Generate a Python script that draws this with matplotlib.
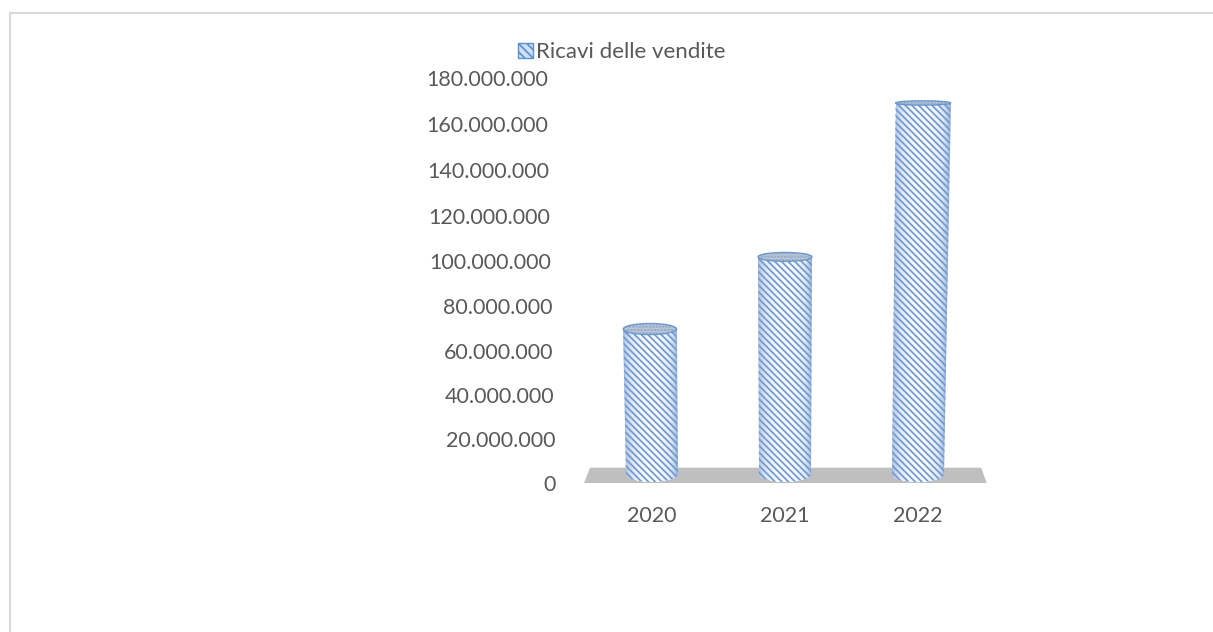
import numpy as np
from matplotlib import pyplot as plt
from matplotlib.lines import Line2D
from matplotlib.patches import Ellipse, PathPatch, Patch, Polygon
from matplotlib.path import Path
from matplotlib.ticker import FuncFormatter

years = ['2020', '2021', '2022']
ricavi = [69700000, 101800000, 169200000]
y_ticks = [0, 20000000, 40000000, 60000000, 80000000,
           100000000, 120000000, 140000000, 160000000, 180000000]
series_name = 'Ricavi delle vendite'

W, H = 1213, 632
Y_MAX = 180000000
TEXT = '#595959'
HATCH = '#7299d0'
FLOOR = '#bfbfbf'
PX_Y = Y_MAX / 405  # data units per pixel, vertical
PX_X = 1 / 133  # category units per pixel, horizontal
plt.rcParams['font.family'] = ['Lato', 'DejaVu Sans']
plt.rcParams['hatch.linewidth'] = 1.25


def dots_formatter(v, pos):
    return f'{int(round(v)):,}'.replace(',', '.')


# the 3D value axis is slightly bowed, ticks are not evenly spaced
BOW = 1.646e-10


def bow_forward(v):
    v = np.asarray(v, dtype=float)
    return v - BOW * v * (Y_MAX - v)


def bow_inverse(u):
    u = np.asarray(u, dtype=float)
    b = 1 - BOW * Y_MAX
    return (-b + np.sqrt(np.maximum(b * b + 4 * BOW * u, 0))) / (2 * BOW)


def cylinder_path(x_bottom, x_top, hw_bottom, hw_top, base, ry, top):
    # side of the cylinder: straight walls, rounded bottom edge
    t = np.linspace(np.pi, 2 * np.pi, 40)
    xs = x_bottom + hw_bottom * np.cos(t)
    ys = base + ry * np.sin(t)
    verts = [(x_top - hw_top, top)] + list(zip(xs, ys)) + [(x_top + hw_top, top), (x_top - hw_top, top)]
    return Path(verts, closed=True)


fig = plt.figure(figsize=(W / 100, H / 100), dpi=100)
ax = fig.add_axes([585.5 / W, 1 - 483 / H, 399 / W, 405 / H])
ax.set_yscale('function', functions=(bow_forward, bow_inverse))
ax.set_xlim(-0.5, 2.5)
ax.set_ylim(0, Y_MAX)

# grey floor under the columns
floor_h = 7000000
floor = Polygon([(-0.511, 0), (2.517, 0), (2.475, floor_h), (-0.466, floor_h)],
                closed=True, facecolor=FLOOR, edgecolor='none', clip_on=False, zorder=1)
ax.add_patch(floor)

# horizontal shading of the column wall, dark edges and light middle
stops = np.array([0.0, 0.05, 0.15, 0.35, 0.62, 0.88, 0.96, 1.0])
red = np.array([0.62, 0.76, 0.88, 0.96, 0.98, 0.88, 0.74, 0.60])
green = np.array([0.72, 0.82, 0.91, 0.98, 0.99, 0.92, 0.82, 0.70])
blue = np.array([0.86, 0.92, 0.97, 1.00, 1.00, 0.97, 0.91, 0.85])
u = np.linspace(0, 1, 81)
wall_rgb = np.dstack([np.interp((u[:-1] + u[1:]) / 2, stops, c) for c in (red, green, blue)])

base = 4000000
for i, val in enumerate(ricavi):
    val_m = val / 1e6
    shift = (i - 1) * 0.03 * val_m * PX_X
    hw_top = (26 + 0.009 * val_m) * PX_X
    hw_bottom = 26 * PX_X
    ry_top = (8 - 0.035 * val_m) * PX_Y
    ry_bottom = 8 * PX_Y
    x_top = i + shift

    path = cylinder_path(i, x_top, hw_bottom, hw_top, base, ry_bottom, val)
    body = PathPatch(path, facecolor='none', edgecolor='none', zorder=2)
    ax.add_patch(body)
    mesh_x = np.vstack([i - hw_bottom + 2 * hw_bottom * u, x_top - hw_top + 2 * hw_top * u])
    mesh_y = np.vstack([np.zeros_like(u), np.full_like(u, val)])
    mesh = ax.pcolormesh(mesh_x, mesh_y, wall_rgb, zorder=2, linewidth=0, rasterized=True)
    mesh.set_clip_path(body)
    ax.add_patch(PathPatch(path, facecolor='none', edgecolor=HATCH, hatch='\\' * 5, linewidth=0, zorder=3))

    # top cap
    ax.add_patch(Ellipse((x_top, val), 2 * hw_top, 2 * ry_top, facecolor='#bcc8da', edgecolor='#6496d4',
                         linewidth=1.0, zorder=4))
    ax.add_patch(Ellipse((x_top, val), 2 * hw_top, 2 * ry_top, facecolor='none', edgecolor='#8ea3c0',
                         hatch='.' * 5, linewidth=0, zorder=5))

ax.set_xlim(-0.5, 2.5)
ax.set_ylim(0, Y_MAX)

for side in ['top', 'right', 'left', 'bottom']:
    ax.spines[side].set_visible(False)
ax.set_xticks(range(len(years)))
ax.set_xticklabels(years)
ax.set_yticks(y_ticks)
ax.yaxis.set_major_formatter(FuncFormatter(dots_formatter))
ax.minorticks_off()
ax.tick_params(axis='both', length=0, labelsize=15.5, labelcolor=TEXT)
ax.tick_params(axis='x', pad=16.3)
# labels lean to the left going up, following the axis
for tick, v in zip(ax.yaxis.get_major_ticks(), y_ticks):
    tick.set_pad((29.5 + 8.3 * v / Y_MAX) * 0.72)

swatch = Patch(facecolor='#cfe0f5', edgecolor='#5b8fd0', hatch='\\' * 4, linewidth=1.0, label=series_name)
fig.legend(handles=[swatch], loc='center left', bbox_to_anchor=(518 / W, 1 - 52 / H), frameon=False,
           fontsize=16, labelcolor=TEXT, handlelength=0.68, handleheight=0.68, handletextpad=0.15,
           borderpad=0, borderaxespad=0)

# chart border: only top and left are visible
fig.add_artist(Line2D([9.5 / W, 9.5 / W], [0, 1 - 13 / H], color='#d9d9d9', lw=1.5))
fig.add_artist(Line2D([9.5 / W, 1], [1 - 13 / H, 1 - 13 / H], color='#d9d9d9', lw=1.5))

fig.savefig('out.png', dpi=100)
